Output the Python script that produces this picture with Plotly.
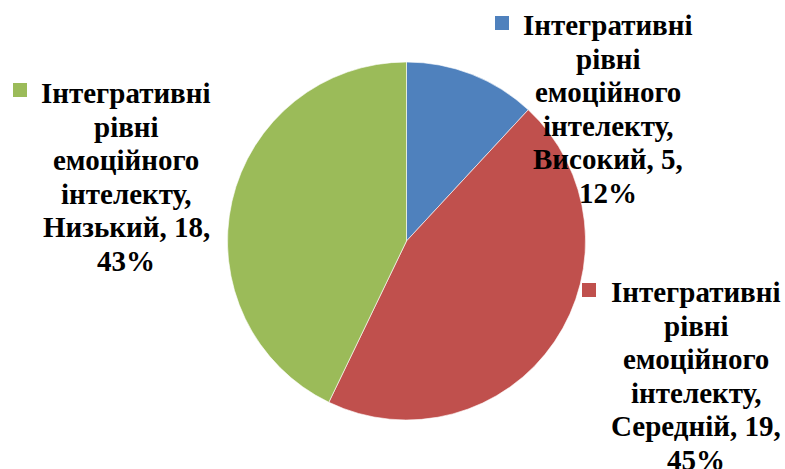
import plotly.graph_objects as go

series_name = "Інтегративні рівні емоційного інтелекту"
categories = ["Високий", "Середній", "Низький"]
values = [5, 19, 18]
colors = ["#4F81BD", "#C0504D", "#9BBB59"]

W, H = 785, 469
total = sum(values)

fig = go.Figure(go.Pie(
    labels=categories, values=values, sort=False, direction="clockwise", rotation=0,
    marker=dict(colors=colors, line=dict(color="white", width=0.6)),
    textinfo="none", hoverinfo="label+value+percent", showlegend=False,
    domain=dict(x=[(406.5 - 179) / W, (406.5 + 179) / W], y=[1 - 420 / H, 1 - 62 / H]),
))

# label placements (pixels): text centre x, first-line centre y, square left x, square top y
placements = [(608, 25, 495, 16), (696, 292, 582, 283), (126, 93, 13, 83)]
LINE = 33.6
words = series_name.split(" ")
name_lines = words[:3] + [words[3] + ","]

annotations, shapes = [], []
for cat, val, col, (cx, cy, sx, sy) in zip(categories, values, colors, placements):
    pct = round(100 * val / total)
    lines = name_lines + [f"{cat}, {val},", f"{pct}%"]
    for i, ln in enumerate(lines):
        annotations.append(dict(
            x=cx / W, y=1 - (cy + i * LINE) / H, xref="paper", yref="paper",
            xanchor="center", yanchor="middle", text=f"<b>{ln}</b>", showarrow=False,
            font=dict(family="Liberation Serif", size=29, color="black"),
        ))
    shapes.append(dict(type="rect", xref="paper", yref="paper",
                       x0=sx / W, x1=(sx + 14) / W, y0=1 - sy / H, y1=1 - (sy + 14) / H,
                       fillcolor=col, line=dict(width=0)))

fig.update_layout(width=W, height=H, margin=dict(l=0, r=0, t=0, b=0),
                  paper_bgcolor="white", plot_bgcolor="white",
                  annotations=annotations, shapes=shapes)
fig.write_html("out.html")
